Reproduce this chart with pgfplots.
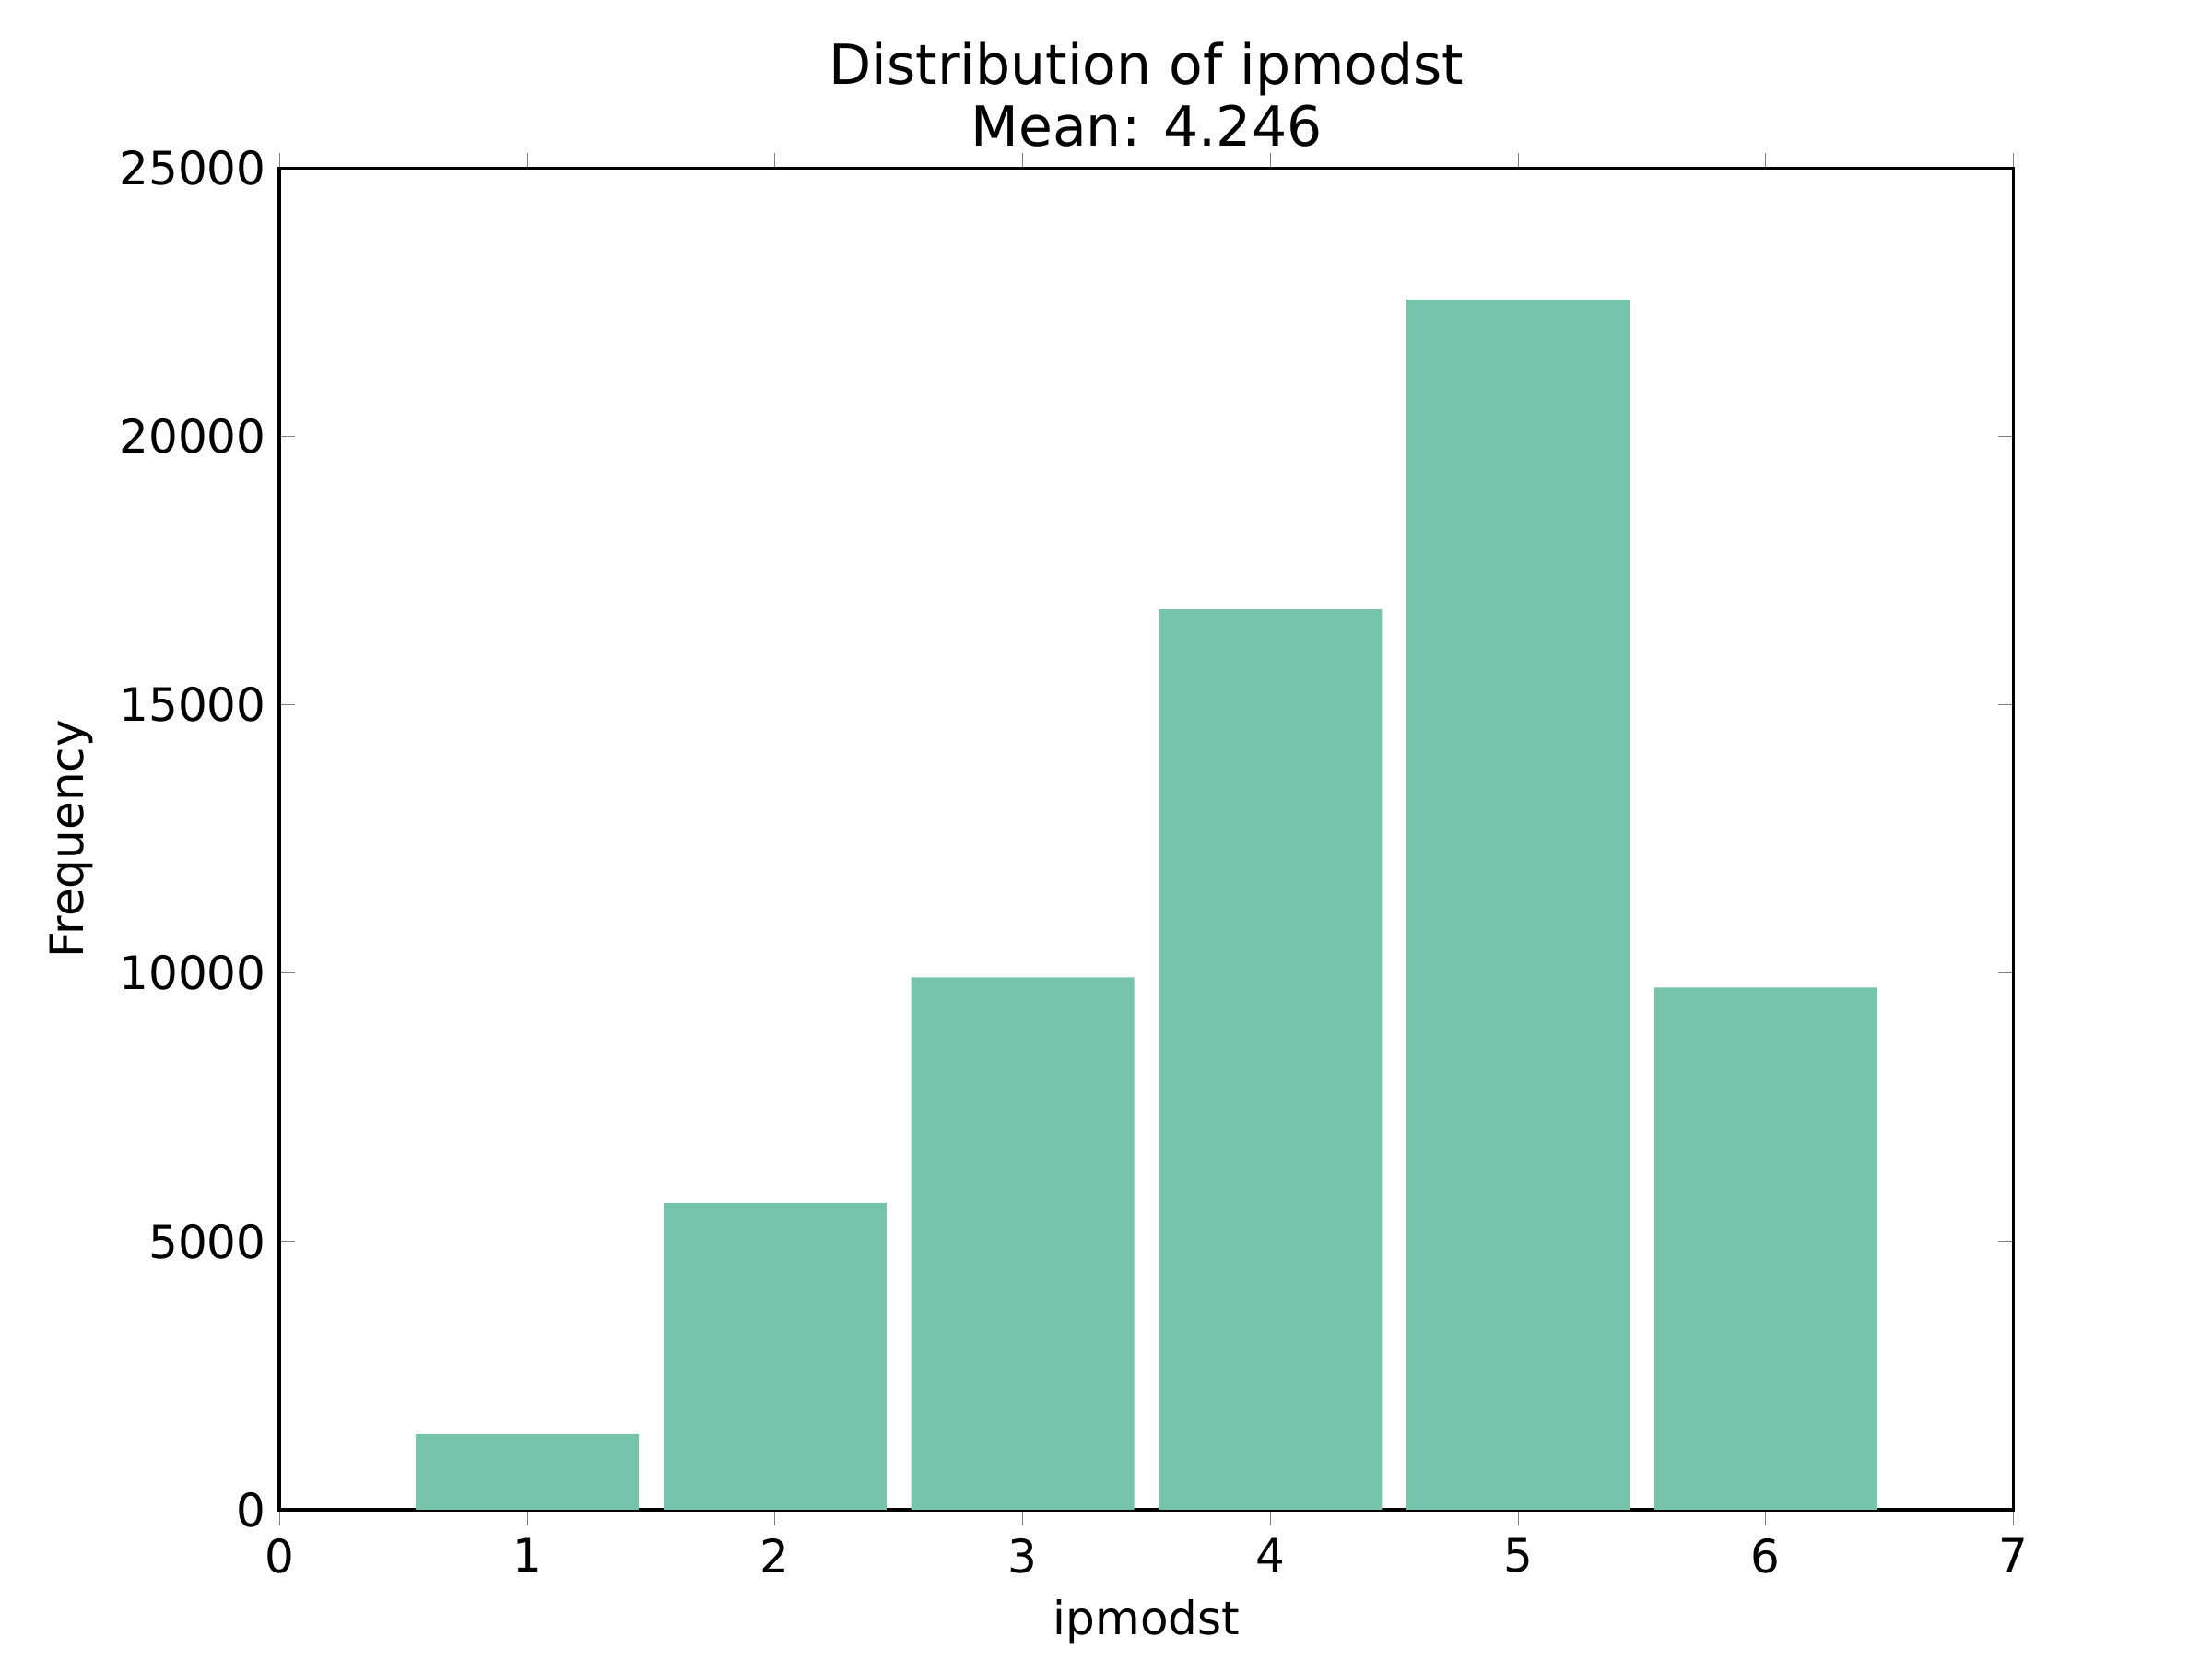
\documentclass[border=0pt]{standalone}
\usepackage{pgfplots}
\pgfplotsset{compat=1.18}
\usepackage{fontspec}
\setmainfont{DejaVu Sans}
\definecolor{barc}{HTML}{77C4AD}
\begin{document}
\begin{tikzpicture}
\begin{axis}[
  scale only axis, width=451.5pt, height=349.3pt,
  xmin=0, xmax=7, ymin=0, ymax=25000,
  xtick={0,...,7}, ytick={0,5000,...,25000},
  tick align=inside, tick pos=both,
  major tick length=4pt,
  scaled y ticks=false,
  /pgf/number format/assume math mode=true,
  yticklabel style={/pgf/number format/.cd,fixed,1000 sep={}},
  ticklabel style={font=\fontsize{12}{14}\selectfont},
  xlabel={ipmodst}, ylabel={Frequency},
  label style={font=\fontsize{12}{14}\selectfont},
  title={Distribution of ipmodst\\Mean: 4.246},
  title style={font=\fontsize{14.4}{16}\selectfont, align=center, yshift=-4pt},
  axis line style={line width=0.9pt},
  ybar, bar width=0.9, bar shift=0pt,
]
\addplot[fill=barc, draw=none] coordinates {(1,1410) (2,5720) (3,9920) (4,16780) (5,22550) (6,9730)};
\end{axis}
\path (current axis.south west) ++(-72.8pt,-39pt) (current axis.north east) ++(51.7pt,43.8pt);
\useasboundingbox (current axis.south west) ++(-72.8pt,-39pt) rectangle ([shift={(51.7pt,43.8pt)}]current axis.north east);
\end{tikzpicture}
\end{document}
